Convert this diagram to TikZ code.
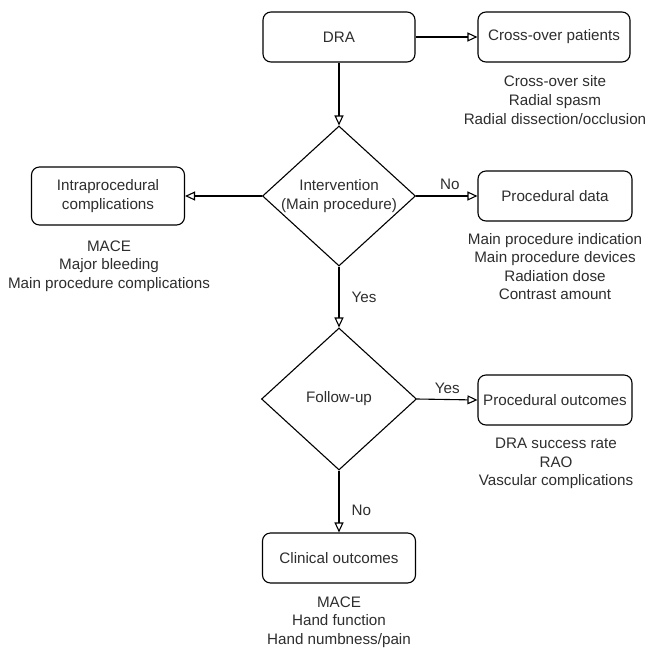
\documentclass[tikz,border=0pt]{standalone}
\usepackage{fontspec}
\setmainfont{Liberation Sans}
\usetikzlibrary{shapes.geometric,arrows.meta}
\begin{document}
\begin{tikzpicture}[x=1pt,y=-1pt,
  every node/.style={text=black!82, font=\fontsize{15.2}{18.6}\selectfont},
  box/.style={draw=black, line width=1.1pt, rounded corners=8pt, minimum width=152pt, minimum height=50pt, inner sep=2pt, align=center},
  dec/.style={draw=black, line width=1.1pt, diamond, aspect=1.1, minimum width=153pt, minimum height=140pt, inner sep=0pt, align=center},
  info/.style={align=center, inner sep=0pt},
  lbl/.style={inner sep=0pt},
  conn/.style={draw=black, line width=1.1pt, -{Triangle[open, length=10pt, width=9pt]}}
]
\useasboundingbox (0,0) rectangle (648,649);
\fill[white] (0,0) rectangle (648,649);

\node[box] (dra) at (339,37) {DRA};
\node[box] (cross) at (554,37) {Cross-over patients};
\node[info] (crosst) at (555,100) {Cross-over site\\Radial spasm\\Radial dissection/occlusion};

\node[dec] (d1) at (339,196) {Intervention\\(Main procedure)};
\node[box, minimum width=153pt, minimum height=58pt] (intra) at (108,196) {Intraprocedural\\complications};
\node[info] (intrat) at (109,266) {MACE\\Major bleeding\\Main procedure complications};
\node[box, minimum width=154pt] (pdata) at (555,196) {Procedural data};
\node[info] (pdatat) at (555,266.5) {Main procedure indication\\Main procedure devices\\Radiation dose\\Contrast amount};

\node[dec, minimum width=155pt, minimum height=142pt] (d2) at (339,399) {Follow-up};
\node[box, minimum width=154pt] (pout) at (555,400) {Procedural outcomes};
\node[info] (poutt) at (556,463.5) {DRA success rate\\RAO\\Vascular complications};

\node[box, minimum width=153pt] (clin) at (339,558) {Clinical outcomes};
\node[info] (clint) at (339,622) {MACE\\Hand function\\Hand numbness/pain};

\draw[conn] (dra.east) -- (cross.west);
\draw[conn] (dra.south) -- (d1.north);
\draw[conn] (d1.west) -- (intra.east);
\draw[conn] (d1.east) -- (pdata.west) node[lbl, pos=0.55, above=6pt] (no1) {No};
\draw[conn] (d1.south) -- (d2.north) node[lbl, pos=0.5, right=12pt] (yes1) {Yes};
\draw[conn] (d2.east) -- (pout.west) node[lbl, pos=0.5, above=5pt] (yes2) {Yes};
\draw[conn] (d2.south) -- (clin.north) node[lbl, pos=0.65, right=12pt] (no2) {No};
\end{tikzpicture}
\end{document}
